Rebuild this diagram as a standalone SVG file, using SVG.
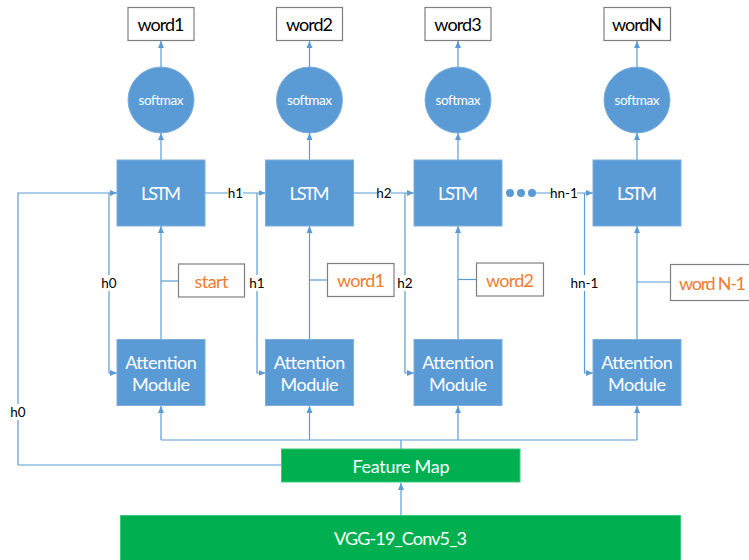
<svg xmlns="http://www.w3.org/2000/svg" width="749" height="560" viewBox="0 0 749 560">
<defs>
<marker id="arr" markerUnits="userSpaceOnUse" markerWidth="8" markerHeight="8" refX="7" refY="4" orient="auto">
<path d="M0,1 L7,4 L0,7 Z" fill="#5B9BD5"/>
</marker>
<style>
.c{fill:none;stroke:#5B9BD5;stroke-width:1.2}
.blue{fill:#5B9BD5;stroke:#7DAEDD;stroke-width:1}
.green{fill:#00B050;stroke:#3CC878;stroke-width:1}
.wbox{fill:#fff;stroke:#7F7F7F;stroke-width:1.2}
text{font-family:Lato,"Liberation Sans",Arial,sans-serif}
.t{text-anchor:middle;dominant-baseline:central}
.wt{fill:#fff}
.bk{fill:#000}
.or{fill:#ED7D31}
.bg{fill:#fff}
.lbl{text-anchor:middle;dominant-baseline:central;font-size:13.5px;fill:#000}
</style>
</defs>
<rect width="749" height="560" fill="#fff"/>

<g id="connectors">
<path class="c" marker-end="url(#arr)" d="M161,67 V41"/>
<path class="c" marker-end="url(#arr)" d="M309.5,67 V41"/>
<path class="c" marker-end="url(#arr)" d="M458,67 V41"/>
<path class="c" marker-end="url(#arr)" d="M637,67 V41"/>
<path class="c" marker-end="url(#arr)" d="M161,160 V133"/>
<path class="c" marker-end="url(#arr)" d="M309.5,160 V133"/>
<path class="c" marker-end="url(#arr)" d="M458,160 V133"/>
<path class="c" marker-end="url(#arr)" d="M637,160 V133"/>
<path class="c" marker-end="url(#arr)" d="M161,339 V226"/>
<path class="c" marker-end="url(#arr)" d="M309.5,339 V226"/>
<path class="c" marker-end="url(#arr)" d="M458,339 V226"/>
<path class="c" marker-end="url(#arr)" d="M637,339 V226"/>
<path class="c" d="M161,281 H178"/>
<path class="c" d="M309.5,280 H327"/>
<path class="c" d="M458,279.5 H476"/>
<path class="c" d="M637,282 H670"/>
<path class="c" d="M161,440 H637"/>
<path class="c" d="M401,449 V440"/>
<path class="c" marker-end="url(#arr)" d="M161,440 V406"/>
<path class="c" marker-end="url(#arr)" d="M309.5,440 V406"/>
<path class="c" marker-end="url(#arr)" d="M458,440 V406"/>
<path class="c" marker-end="url(#arr)" d="M637,440 V406"/>
<path class="c" marker-end="url(#arr)" d="M401,515 V483"/>
<path class="c" marker-end="url(#arr)" d="M281,465 H18 V193 H117"/>
<path class="c" marker-end="url(#arr)" d="M109,193 V373 H117"/>
<path class="c" marker-end="url(#arr)" d="M205,193 H265.5"/>
<path class="c" marker-end="url(#arr)" d="M257,193 V373 H265.5"/>
<path class="c" marker-end="url(#arr)" d="M353.5,193 H414"/>
<path class="c" marker-end="url(#arr)" d="M405,193 V373 H414"/>
<path class="c" marker-end="url(#arr)" d="M532,193 H593"/>
<path class="c" marker-end="url(#arr)" d="M584.5,193 V373 H593"/>
<rect class="bg" x="10" y="404" width="16" height="16"/>
<rect class="bg" x="101" y="275" width="16" height="16"/>
<rect class="bg" x="228" y="185" width="15" height="16"/>
<rect class="bg" x="249" y="275" width="16" height="16"/>
<rect class="bg" x="377" y="185" width="14" height="16"/>
<rect class="bg" x="397" y="275" width="16" height="16"/>
<rect class="bg" x="551" y="185" width="26" height="16"/>
<rect class="bg" x="571" y="275" width="27" height="16"/>
<text class="lbl" x="18" y="412">h0</text>
<text class="lbl" x="109" y="283">h0</text>
<text class="lbl" x="235.5" y="193">h1</text>
<text class="lbl" x="257" y="283">h1</text>
<text class="lbl" x="384" y="193">h2</text>
<text class="lbl" x="405" y="283">h2</text>
<text class="lbl" x="564" y="193">hn-1</text>
<text class="lbl" x="584.5" y="283">hn-1</text>
</g>

<g id="dots">
<circle cx="510" cy="193" r="4" fill="#5B9BD5"/>
<circle cx="521" cy="193" r="4" fill="#5B9BD5"/>
<circle cx="532" cy="193" r="4" fill="#5B9BD5"/>
</g>

<g id="word1-out"><rect class="wbox" x="128" y="7.5" width="66" height="33"/><text class="t bk" x="161" y="24" font-size="18" textLength="47">word1</text></g>
<g id="word2-out"><rect class="wbox" x="276.5" y="7.5" width="66" height="33"/><text class="t bk" x="309.5" y="24" font-size="18" textLength="47">word2</text></g>
<g id="word3-out"><rect class="wbox" x="425" y="7.5" width="66" height="33"/><text class="t bk" x="458" y="24" font-size="18" textLength="47.5">word3</text></g>
<g id="wordN-out"><rect class="wbox" x="604" y="7.5" width="66.5" height="33"/><text class="t bk" x="637" y="24" font-size="18" textLength="50">wordN</text></g>

<g id="softmax1"><circle class="blue" cx="161" cy="100" r="33"/><text class="t wt" x="161" y="100" font-size="13.5" textLength="45">softmax</text></g>
<g id="softmax2"><circle class="blue" cx="309.5" cy="100" r="33"/><text class="t wt" x="309.5" y="100" font-size="13.5" textLength="45">softmax</text></g>
<g id="softmax3"><circle class="blue" cx="458" cy="100" r="33"/><text class="t wt" x="458" y="100" font-size="13.5" textLength="45">softmax</text></g>
<g id="softmaxN"><circle class="blue" cx="637" cy="100" r="33"/><text class="t wt" x="637" y="100" font-size="13.5" textLength="45">softmax</text></g>

<g id="lstm1"><rect class="blue" x="117" y="160" width="88" height="66"/><text class="t wt" x="161" y="193" font-size="18" textLength="40">LSTM</text></g>
<g id="lstm2"><rect class="blue" x="265.5" y="160" width="88" height="66"/><text class="t wt" x="309.5" y="193" font-size="18" textLength="40">LSTM</text></g>
<g id="lstm3"><rect class="blue" x="414" y="160" width="88" height="66"/><text class="t wt" x="458" y="193" font-size="18" textLength="40">LSTM</text></g>
<g id="lstmN"><rect class="blue" x="593" y="160" width="88" height="66"/><text class="t wt" x="637" y="193" font-size="18" textLength="40">LSTM</text></g>

<g id="in-start"><rect class="wbox" x="178.5" y="264" width="66" height="33"/><text class="t or" x="211.5" y="280.5" font-size="18" textLength="34">start</text></g>
<g id="in-word1"><rect class="wbox" x="327.5" y="263.5" width="66.5" height="33"/><text class="t or" x="361" y="280" font-size="18" textLength="48">word1</text></g>
<g id="in-word2"><rect class="wbox" x="476.5" y="263" width="67" height="33"/><text class="t or" x="510" y="279.5" font-size="18" textLength="48">word2</text></g>
<g id="in-wordN-1"><rect class="wbox" x="670.5" y="264.5" width="90" height="36"/><text class="or" x="679" y="282.5" font-size="18" dominant-baseline="central" textLength="67">word N-1</text></g>

<g id="att1"><rect class="blue" x="117" y="339.5" width="88" height="66"/><text class="t wt" x="161" y="362" font-size="18" textLength="71.5">Attention</text><text class="t wt" x="161" y="384" font-size="18" textLength="58">Module</text></g>
<g id="att2"><rect class="blue" x="265.5" y="339.5" width="88" height="66"/><text class="t wt" x="309.5" y="362" font-size="18" textLength="71.5">Attention</text><text class="t wt" x="309.5" y="384" font-size="18" textLength="58">Module</text></g>
<g id="att3"><rect class="blue" x="414" y="339.5" width="88" height="66"/><text class="t wt" x="458" y="362" font-size="18" textLength="71.5">Attention</text><text class="t wt" x="458" y="384" font-size="18" textLength="58">Module</text></g>
<g id="attN"><rect class="blue" x="593" y="339.5" width="88" height="66"/><text class="t wt" x="637" y="362" font-size="18" textLength="71.5">Attention</text><text class="t wt" x="637" y="384" font-size="18" textLength="58">Module</text></g>

<g id="feature-map"><rect class="green" x="281.5" y="449" width="238.5" height="33"/><text class="t wt" x="401" y="465.5" font-size="18" textLength="97">Feature Map</text></g>
<g id="vgg"><rect class="green" x="120.5" y="515.5" width="560" height="50"/><text class="t wt" x="400.5" y="537.5" font-size="18" textLength="133">VGG-19_Conv5_3</text></g>
</svg>
